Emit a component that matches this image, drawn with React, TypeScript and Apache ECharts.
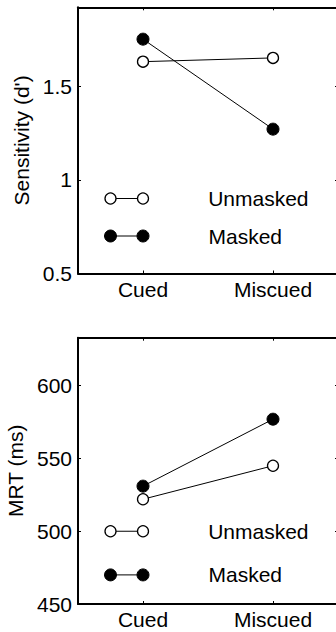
import React, { useEffect, useRef } from "react";
import * as echarts from "echarts";

const categories = ["Cued", "Miscued"];
const categoryX = [1, 2];
const seriesNames = ["Unmasked", "Masked"];
const unmaskedSensitivity = [1.63, 1.65];
const maskedSensitivity = [1.75, 1.27];
const unmaskedMRT = [522, 545];
const maskedMRT = [531, 577];
const sensitivityTicks = [0.5, 1, 1.5];
const mrtTicks = [450, 500, 550, 600];
const legendSampleX = [0.75, 1];
const sensitivityLegendY = [0.9, 0.7];
const mrtLegendY = [500, 470];

const FONT = "'Liberation Sans', Arial, Helvetica, sans-serif";

function xAxes(gridIndex: number) {
  const base = {
    type: "value" as const,
    gridIndex,
    min: 0.5,
    max: 2.5,
    splitLine: { show: false },
    axisLine: { show: true, onZero: false, lineStyle: { color: "#000", width: 2 } },
    axisTick: { show: true, inside: true, length: 3, customValues: categoryX, lineStyle: { color: "#000", width: 1 } },
  };
  return [
    {
      ...base,
      position: "bottom",
      axisLabel: {
        show: true,
        customValues: categoryX,
        margin: 5,
        color: "#000",
        fontFamily: FONT,
        fontSize: 21,
        formatter: (v: number) => categories[categoryX.indexOf(v)] ?? "",
      },
    },
    { ...base, position: "top", axisLabel: { show: false } },
  ];
}

function yAxes(gridIndex: number, min: number, max: number, ticks: number[], name: string) {
  const base = {
    type: "value" as const,
    gridIndex,
    min,
    max,
    splitLine: { show: false },
    axisLine: { show: true, onZero: false, lineStyle: { color: "#000", width: 2 } },
    axisTick: { show: true, inside: true, length: 3, customValues: ticks, lineStyle: { color: "#000", width: 1 } },
  };
  return [
    {
      ...base,
      position: "left",
      name,
      nameLocation: "middle",
      nameGap: 42,
      nameTextStyle: { color: "#000", fontFamily: FONT, fontSize: 21 },
      axisLabel: { show: true, customValues: ticks, margin: 6, color: "#000", fontFamily: FONT, fontSize: 21 },
    },
    { ...base, position: "right", axisLabel: { show: false } },
  ];
}

const openStyle = {
  symbol: "circle",
  symbolSize: 11,
  itemStyle: { color: "#fff", borderColor: "#000", borderWidth: 1.3 },
  lineStyle: { color: "#000", width: 1 },
};
const filledStyle = {
  symbol: "circle",
  symbolSize: 12,
  itemStyle: { color: "#000", borderColor: "#000", borderWidth: 1 },
  lineStyle: { color: "#000", width: 1 },
};

function dataSeries(name: string, values: number[], style: any, xi: number, yi: number) {
  return {
    type: "line",
    name,
    xAxisIndex: xi,
    yAxisIndex: yi,
    silent: true,
    ...style,
    data: values.map((v, i) => [categoryX[i], v]),
  };
}

function legendSeries(name: string, y: number, style: any, xi: number, yi: number) {
  return {
    type: "line",
    name: name + " legend",
    xAxisIndex: xi,
    yAxisIndex: yi,
    silent: true,
    ...style,
    data: legendSampleX.map((x, i) =>
      i === legendSampleX.length - 1
        ? {
            value: [x, y],
            label: {
              show: true,
              position: "right",
              distance: 59,
              formatter: name,
              color: "#000",
              fontFamily: FONT,
              fontSize: 21,
            },
          }
        : { value: [x, y] }
    ),
  };
}

export default function App() {
  const ref = useRef<HTMLDivElement>(null);
  useEffect(() => {
    if (!ref.current) return;
    const chart = echarts.init(ref.current, null, { renderer: "svg" });
    chart.setOption({
      animation: false,
      backgroundColor: "#fff",
      grid: [
        { left: 78, top: 7.3, width: 260, height: 266.2, show: false, containLabel: false, outerBoundsMode: "none" },
        { left: 78, top: 337.7, width: 260, height: 266.3, show: false, containLabel: false, outerBoundsMode: "none" },
      ],
      xAxis: [...xAxes(0), ...xAxes(1)],
      yAxis: [
        ...yAxes(0, 0.5, 1.92, sensitivityTicks, "Sensitivity (d')"),
        ...yAxes(1, 450, 633, mrtTicks, "MRT (ms)"),
      ],
      series: [
        dataSeries(seriesNames[0], unmaskedSensitivity, openStyle, 0, 0),
        dataSeries(seriesNames[1], maskedSensitivity, filledStyle, 0, 0),
        legendSeries(seriesNames[0], sensitivityLegendY[0], openStyle, 0, 0),
        legendSeries(seriesNames[1], sensitivityLegendY[1], filledStyle, 0, 0),
        dataSeries(seriesNames[0], unmaskedMRT, openStyle, 2, 2),
        dataSeries(seriesNames[1], maskedMRT, filledStyle, 2, 2),
        legendSeries(seriesNames[0], mrtLegendY[0], openStyle, 2, 2),
        legendSeries(seriesNames[1], mrtLegendY[1], filledStyle, 2, 2),
      ],
    });
    return () => chart.dispose();
  }, []);
  return (
    <div
      ref={ref}
      style={{ position: "fixed", left: 0, top: 0, width: 336, height: 632, background: "#fff" }}
    />
  );
}
